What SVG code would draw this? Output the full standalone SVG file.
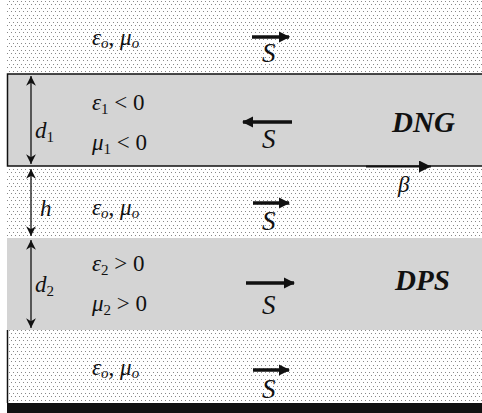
<svg xmlns="http://www.w3.org/2000/svg" width="482" height="413" viewBox="0 0 482 413">
<style>
.t{font-family:"Liberation Serif","Times New Roman",serif;font-style:italic;font-size:23px;fill:#111}
.n{font-style:normal}
.sub{font-size:15px}
.big{font-family:"Liberation Serif","Times New Roman",serif;font-style:italic;font-weight:bold;font-size:29px;fill:#111}
.S{font-family:"Liberation Serif","Times New Roman",serif;font-style:italic;font-size:27px;fill:#111}
.va{stroke:#111;stroke-width:3.5;fill:none}
.dim{stroke:#222;stroke-width:1.4;fill:none;marker-start:url(#ds);marker-end:url(#de)}
</style>
<defs>
<pattern id="dots" width="8" height="7" patternUnits="userSpaceOnUse">
<rect width="8" height="7" fill="#fff"/>
<rect x="1" y="1" width="1" height="1" fill="#888"/>
<rect x="5" y="1" width="1" height="1" fill="#888"/>
<rect x="3" y="4" width="1" height="1" fill="#888"/>
<rect x="7" y="4" width="1" height="1" fill="#888"/>
</pattern>
<marker id="ah" viewBox="0 0 10 10" refX="9" refY="5" markerWidth="3.4" markerHeight="3.2" orient="auto" markerUnits="strokeWidth">
<path d="M0,0 L10,5 L0,10 z" fill="#111"/>
</marker>
<marker id="de" viewBox="0 0 10 10" refX="10" refY="5" markerWidth="7" markerHeight="7" orient="auto" markerUnits="strokeWidth">
<path d="M0,0 L10,5 L0,10 L3,5 z" fill="#111"/>
</marker>
<marker id="ds" viewBox="0 0 10 10" refX="0" refY="5" markerWidth="7" markerHeight="7" orient="auto" markerUnits="strokeWidth">
<path d="M10,0 L0,5 L10,10 L7,5 z" fill="#111"/>
</marker>
<marker id="bh" viewBox="0 0 10 10" refX="10" refY="5" markerWidth="6" markerHeight="6" orient="auto" markerUnits="strokeWidth">
<path d="M0,0 L10,5 L0,10 z" fill="#111"/>
</marker>
</defs>
<rect width="482" height="413" fill="#fff"/>
<g id="layers">
<rect id="top-air" x="7" y="0" width="475" height="74" fill="url(#dots)"/>
<rect id="gap-air" x="7" y="166" width="475" height="72" fill="url(#dots)"/>
<rect id="bottom-air" x="7" y="330" width="475" height="73" fill="url(#dots)"/>
<rect id="dng" x="7.5" y="74" width="480" height="92" fill="#d4d4d4" stroke="#111" stroke-width="1.5"/>
<rect id="dps" x="7" y="238" width="475" height="92" fill="#d4d4d4"/>
<line x1="7.5" y1="330" x2="7.5" y2="403" stroke="#111" stroke-width="1.5"/>
<rect id="ground" x="7" y="403" width="475" height="10" fill="#111"/>
</g>
<g id="connectors">
<line class="dim" x1="31" y1="76" x2="31" y2="164"/>
<line class="dim" x1="31" y1="169" x2="31" y2="236"/>
<line class="dim" x1="31" y1="240" x2="31" y2="328"/>
<line x1="366" y1="166.5" x2="431" y2="166.5" stroke="#111" stroke-width="2" marker-end="url(#bh)"/>
<line class="va" x1="252" y1="37" x2="289" y2="37" marker-end="url(#ah)"/>
<line class="va" x1="292" y1="122" x2="243" y2="122" marker-end="url(#ah)"/>
<line class="va" x1="253" y1="203" x2="289" y2="203" marker-end="url(#ah)"/>
<line class="va" x1="246" y1="283" x2="294" y2="283" marker-end="url(#ah)"/>
<line class="va" x1="253" y1="370" x2="289" y2="370" marker-end="url(#ah)"/>
</g>
<g id="top-medium">
<text class="t" x="92" y="45">ε<tspan class="sub" dy="3">o</tspan><tspan dy="-3" class="n">, </tspan>μ<tspan class="sub" dy="3">o</tspan></text>
<text class="S" x="262" y="62">S</text>
</g>
<g id="dng-layer">
<text class="t" x="35" y="138">d<tspan class="sub n" dy="4">1</tspan></text>
<text class="t" x="92" y="110">ε<tspan class="sub n" dy="4">1</tspan><tspan class="n" dy="-4"> &lt; 0</tspan></text>
<text class="t" x="92" y="150">μ<tspan class="sub n" dy="4">1</tspan><tspan class="n" dy="-4"> &lt; 0</tspan></text>
<text class="S" x="262" y="148">S</text>
<text class="big" x="392" y="132">DNG</text>
</g>
<g id="gap-medium">
<text class="t" x="40" y="216">h</text>
<text class="t" x="92" y="215">ε<tspan class="sub" dy="3">o</tspan><tspan dy="-3" class="n">, </tspan>μ<tspan class="sub" dy="3">o</tspan></text>
<text class="S" x="262" y="230">S</text>
<text class="t" x="398" y="192">β</text>
</g>
<g id="dps-layer">
<text class="t" x="35" y="292">d<tspan class="sub n" dy="4">2</tspan></text>
<text class="t" x="92" y="271">ε<tspan class="sub n" dy="4">2</tspan><tspan class="n" dy="-4"> &gt; 0</tspan></text>
<text class="t" x="92" y="311">μ<tspan class="sub n" dy="4">2</tspan><tspan class="n" dy="-4"> &gt; 0</tspan></text>
<text class="S" x="262" y="314">S</text>
<text class="big" x="395" y="290">DPS</text>
</g>
<g id="bottom-medium">
<text class="t" x="92" y="375">ε<tspan class="sub" dy="3">o</tspan><tspan dy="-3" class="n">, </tspan>μ<tspan class="sub" dy="3">o</tspan></text>
<text class="S" x="262" y="398">S</text>
</g>
</svg>
